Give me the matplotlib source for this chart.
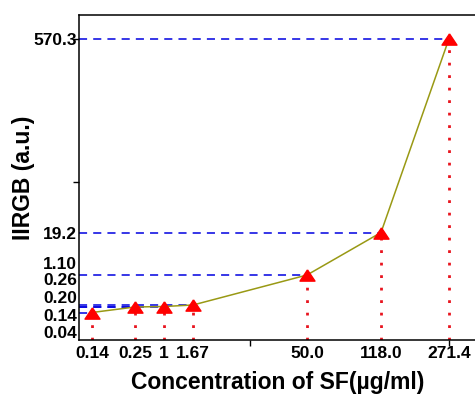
import numpy as np
import matplotlib
matplotlib.use("Agg")
from matplotlib import pyplot as plt

# data
conc = [0.14, 0.25, 1, 1.67, 50.0, 118.0, 271.4]          # SF concentration (ug/ml)
conc_labels = ["0.14", "0.25", "1", "1.67", "50.0", "118.0", "271.4"]
iirgb = [0.04, 0.14, 0.20, 0.26, 1.10, 19.2, 570.3]         # IIRGB (a.u.)
iirgb_labels = ["0.04", "0.14", "0.20", "0.26", "1.10", "19.2", "570.3"]

# the original axes are hand spaced, not linear / log:
# piecewise scales (value -> screen position along the axis, in px)
x_anchor_val = np.r_[0.0, conc, 400.0]
x_anchor_pos = np.array([0, 13, 56, 85, 114, 228, 302, 370, 396], dtype=float)
y_anchor_val = np.r_[0.0, iirgb, 600.0]
y_anchor_pos = np.array([0, 27.5, 33, 33.5, 35, 65, 107.5, 301.3, 325], dtype=float)

def xfwd(v):
    return np.interp(v, x_anchor_val, x_anchor_pos)
def xinv(p):
    return np.interp(p, x_anchor_pos, x_anchor_val)
def yfwd(v):
    return np.interp(v, y_anchor_val, y_anchor_pos)
def yinv(p):
    return np.interp(p, y_anchor_pos, y_anchor_val)

# where the squeezed y labels sit (axes fraction)
ylab_pos = [0.0215, 0.0708, 0.1277, 0.1846, 0.2308, 0.3246, 0.923]

plt.rcParams['font.family'] = ['Liberation Sans', 'DejaVu Sans']
plt.rcParams['font.weight'] = 'bold'

fig = plt.figure(figsize=(4.75, 3.96), dpi=100)
ax = fig.add_axes([79/475, 56/396, 396/475, 325/396])
ax.set_xscale('function', functions=(xfwd, xinv))
ax.set_yscale('function', functions=(yfwd, yinv))
ax.set_xlim(0, 400)
ax.set_ylim(0, 600)

ax.hlines(iirgb, 0, conc, colors='#0000e0', linestyles=(0, (5.3, 4)), lw=1.1, zorder=2)
ax.vlines(conc, 0, iirgb, colors='#e8141e', linestyles=(0, (1, 3.5)), lw=2.0, zorder=2)
ax.plot(conc, iirgb, color='#999914', lw=1.1, zorder=3)
tri = [(0, 0.75), (-1, -0.75), (1, -0.75), (0, 0.75)]
ax.plot(conc, iirgb, ls='none', marker=tri, ms=10.8, color='#ff0000', zorder=4)

for s in ['left', 'bottom', 'top']:
    ax.spines[s].set_linewidth(1.1)
ax.spines['right'].set_visible(False)

ax.set_xticks(conc)
ax.set_xticklabels(conc_labels)
ax.tick_params(axis='x', length=0, pad=4, labelsize=12.5)
ax.set_xticks([25.8, 271.4], minor=True)
ax.xaxis.remove_overlapping_locs = False
ax.tick_params(axis='x', which='minor', length=4, width=1)

ax.set_yticks([])
ax.set_yticks([163, 570.3], minor=True)
ax.tick_params(axis='y', which='minor', length=4, width=1)

for lab, p in zip(iirgb_labels, ylab_pos):
    ax.text(-0.005, p, lab, transform=ax.transAxes, ha='right', va='center',
            fontsize=12.5, fontweight='bold')

ax.set_xlabel("Concentration of SF(\u00b5g/ml)", fontsize=16.5, fontweight='bold', va='center')
ax.xaxis.set_label_coords(0.501, -0.132)
ax.set_ylabel("IIRGB (a.u.)", fontsize=16.5, fontweight='bold', va='center')
ax.yaxis.set_label_coords(-0.141, 0.498)

fig.savefig("out.png", dpi=100)
